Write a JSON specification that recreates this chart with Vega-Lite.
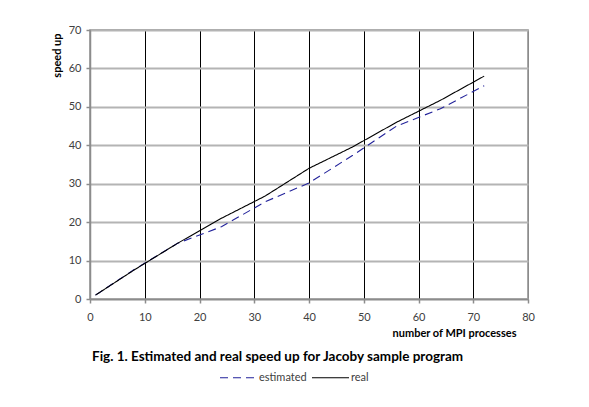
{
  "$schema": "https://vega.github.io/schema/vega-lite/v6.json",
  "width": 438,
  "height": 269,
  "autosize": {"type": "none"},
  "padding": {"left": 90, "top": 30, "right": 61, "bottom": 108},
  "background": "white",
  "config": {
    "font": "Lato",
    "view": {"stroke": "#8c8c8c", "strokeWidth": 1.5}
  },
  "title": {
    "text": "Fig. 1. Estimated and real speed up for Jacoby sample program",
    "orient": "bottom",
    "anchor": "start",
    "frame": "group",
    "offset": -33,
    "dx": 2,
    "fontSize": 13.5,
    "fontWeight": "bold",
    "color": "#000000",
    "font": "Lato"
  },
  "data": {
    "values": [
      {"processes": 1, "speedup": 1, "series": "estimated"},
      {"processes": 8, "speedup": 7.6, "series": "estimated"},
      {"processes": 16, "speedup": 14.5, "series": "estimated"},
      {"processes": 24, "speedup": 18.8, "series": "estimated"},
      {"processes": 32, "speedup": 25.3, "series": "estimated"},
      {"processes": 40, "speedup": 30.2, "series": "estimated"},
      {"processes": 48, "speedup": 37.4, "series": "estimated"},
      {"processes": 56, "speedup": 45, "series": "estimated"},
      {"processes": 64, "speedup": 49.5, "series": "estimated"},
      {"processes": 72, "speedup": 55.5, "series": "estimated"},
      {"processes": 1, "speedup": 1, "series": "real"},
      {"processes": 8, "speedup": 7.5, "series": "real"},
      {"processes": 16, "speedup": 14.5, "series": "real"},
      {"processes": 24, "speedup": 21, "series": "real"},
      {"processes": 32, "speedup": 26.8, "series": "real"},
      {"processes": 40, "speedup": 34, "series": "real"},
      {"processes": 48, "speedup": 39.6, "series": "real"},
      {"processes": 56, "speedup": 46, "series": "real"},
      {"processes": 64, "speedup": 51.7, "series": "real"},
      {"processes": 72, "speedup": 58, "series": "real"}
    ]
  },
  "mark": {"type": "line", "strokeWidth": 1.1, "clip": true},
  "encoding": {
    "x": {
      "field": "processes",
      "type": "quantitative",
      "scale": {"domain": [0, 80], "nice": false, "zero": true},
      "axis": {
        "values": [0, 10, 20, 30, 40, 50, 60, 70, 80],
        "title": "number of MPI processes",
        "titleFont": "Lato",
        "titleFontSize": 11,
        "titleFontWeight": "bold",
        "titleColor": "#000000",
        "titleAnchor": "end",
        "titleAlign": "right",
        "titleBaseline": "middle",
        "titleX": 426,
        "titleY": 34,
        "labelFontSize": 11,
        "labelColor": "#404040",
        "labelPadding": 8,
        "labelFlush": false,
        "tickSize": 4,
        "tickColor": "#8c8c8c",
        "tickWidth": 1.5,
        "domainColor": "#8c8c8c",
        "domainWidth": 1.5,
        "grid": true,
        "gridColor": {"condition": {"test": "datum.value == 80 || datum.value == 0", "value": "#8c8c8c"}, "value": "#000000"},
        "gridWidth": 1,
        "gridOpacity": 1
      }
    },
    "y": {
      "field": "speedup",
      "type": "quantitative",
      "scale": {"domain": [0, 70], "nice": false},
      "axis": {
        "values": [0, 10, 20, 30, 40, 50, 60, 70],
        "title": "speed up",
        "titleFont": "Lato",
        "titleFontSize": 11,
        "titleFontWeight": "bold",
        "titleColor": "#000000",
        "titleAngle": -90,
        "titleAlign": "right",
        "titleBaseline": "middle",
        "titleX": -33,
        "titleY": 3,
        "labelFontSize": 11,
        "labelColor": "#404040",
        "labelPadding": 5,
        "labelFlush": false,
        "tickSize": 4,
        "tickColor": "#8c8c8c",
        "tickWidth": 1.5,
        "domainColor": "#8c8c8c",
        "domainWidth": 1.5,
        "grid": true,
        "gridColor": "#b4b4b4",
        "gridWidth": 1.8,
        "gridOpacity": 1
      }
    },
    "color": {
      "field": "series",
      "type": "nominal",
      "scale": {"domain": ["estimated", "real"], "range": ["#22229a", "#000000"]},
      "legend": {
        "title": null,
        "orient": "none",
        "direction": "horizontal",
        "legendX": 129,
        "legendY": 328,
        "symbolType": "stroke",
        "symbolSize": 1369,
        "symbolStrokeWidth": 1.1,
        "labelFontSize": 11,
        "labelColor": "#404040",
        "labelOffset": 1,
        "columnPadding": 2
      }
    },
    "strokeDash": {
      "field": "series",
      "type": "nominal",
      "scale": {"domain": ["estimated", "real"], "range": [[8, 5], [1, 0]]},
      "legend": {
        "title": null,
        "orient": "none",
        "direction": "horizontal",
        "legendX": 129,
        "legendY": 328,
        "symbolType": "stroke",
        "symbolSize": 1369,
        "symbolStrokeWidth": 1.1,
        "labelFontSize": 11,
        "labelColor": "#404040",
        "labelOffset": 1,
        "columnPadding": 2
      }
    }
  }
}
